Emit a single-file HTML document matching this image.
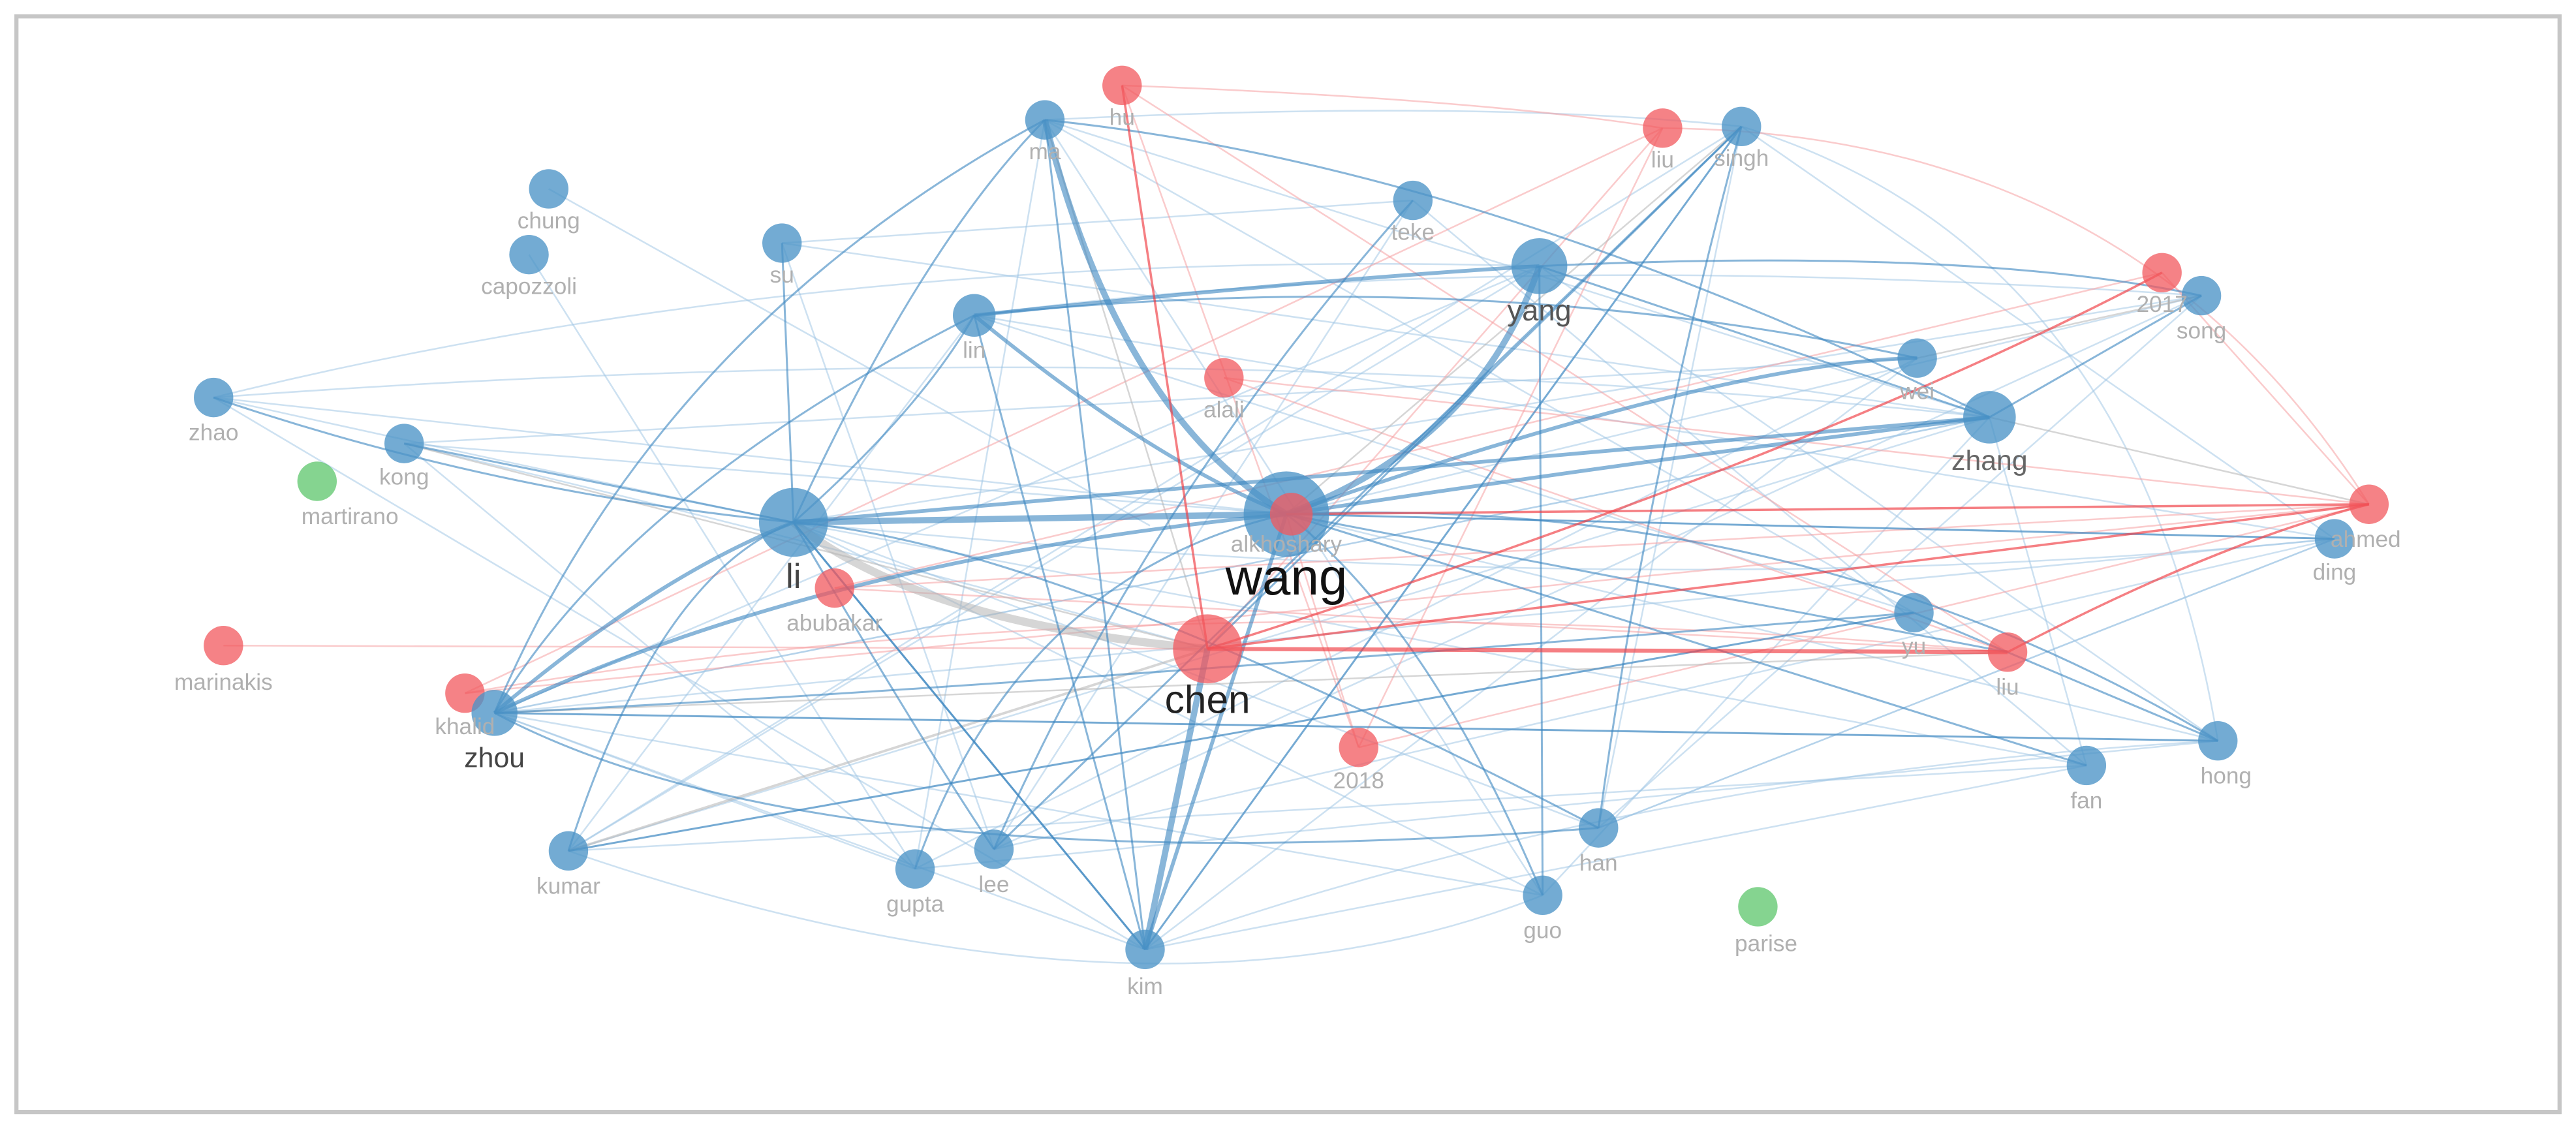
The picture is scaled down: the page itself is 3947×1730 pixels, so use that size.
<!DOCTYPE html>
<html><head><meta charset="utf-8"><style>
html,body{margin:0;padding:0;background:#fff}
svg{display:block}
text{font-family:"Liberation Sans",sans-serif;text-anchor:middle}
.l{fill:#b0b0b0;font-size:14px}
.sb{stroke:#3a86bf;fill:none;stroke-opacity:.6}
.lb{stroke:#9cc4e3;fill:none;stroke-opacity:.5;stroke-width:1}
.rd{stroke:#ef3b40;fill:none;stroke-opacity:.65}
.lr{stroke:#f5a0a3;fill:none;stroke-opacity:.55;stroke-width:1}
.gr{stroke:#b5b5b5;fill:none;stroke-opacity:.55}
.b{fill:#4b93c6;fill-opacity:.78}
.r{fill:#f2585d;fill-opacity:.75}
.g{fill:#5cc66b;fill-opacity:.75}
</style></head><body>
<svg width="3947" height="1730" viewBox="0 0 1568 687.3" preserveAspectRatio="none">
<rect x="0" y="0" width="1568" height="687.3" fill="#fff"/>
<rect x="10" y="10" width="1548" height="667" fill="none" stroke="#c6c6c6" stroke-width="2.5"/>
<g class="lb">
<path d="M130 242 Q500 150 937 162"/><path d="M130 242 Q300 280 483 318"/><path d="M130 242 L783 313"/><path d="M130 242 Q700 200 1211 254"/>
<path d="M246 270 L783 313"/><path d="M246 270 Q600 250 1167 218"/><path d="M246 270 L557 529"/><path d="M246 270 Q500 330 735 395"/>
<path d="M334 115 L700 320"/><path d="M476 148 L860 122"/><path d="M593 192 Q900 150 1340 180"/><path d="M593 192 L1165 373"/>
<path d="M636 73 L1211 254"/><path d="M636 73 L939 545"/><path d="M636 73 L557 529"/><path d="M636 73 Q900 60 1060 77"/>
<path d="M1060 77 L697 578"/><path d="M1060 77 L346 518"/><path d="M1060 77 L973 504"/><path d="M1060 77 Q1300 150 1350 451"/>
<path d="M860 122 L605 517"/><path d="M860 122 L1270 466"/><path d="M937 162 L1350 451"/><path d="M937 162 L346 518"/>
<path d="M1340 180 L973 504"/><path d="M1340 180 L783 313"/><path d="M1167 218 L697 578"/><path d="M1211 254 L301 434"/>
<path d="M1421 328 L301 434"/><path d="M1421 328 L783 313"/><path d="M1421 328 L973 504"/><path d="M1421 328 Q1000 370 483 318"/>
<path d="M1350 451 L301 434"/><path d="M1270 466 L483 318"/><path d="M1270 466 L1211 254"/><path d="M1165 373 L346 518"/>
<path d="M346 518 Q700 640 939 545"/><path d="M346 518 L1270 466"/><path d="M557 529 L1350 451"/><path d="M605 517 L1421 328"/>
<path d="M697 578 Q1000 470 1350 451"/><path d="M697 578 L1270 466"/><path d="M939 545 L301 434"/><path d="M973 504 L483 318"/>
<path d="M301 434 L557 529"/><path d="M301 434 L697 578"/><path d="M483 318 L939 545"/><path d="M593 192 L346 518"/>
<path d="M322 155 L557 529"/><path d="M1060 77 L1421 328"/><path d="M476 148 L605 517"/><path d="M130 242 L697 578"/>
<path d="M301 434 L1211 254"/><path d="M301 434 L937 162"/><path d="M346 518 L1211 254"/><path d="M557 529 L1167 218"/>
<path d="M605 517 L1340 180"/><path d="M483 318 L1340 180"/><path d="M973 504 L1421 328"/><path d="M939 545 L1211 254"/>
<path d="M783 313 L1350 451"/><path d="M593 192 L1421 328"/><path d="M636 73 L1165 373"/><path d="M476 148 L1211 254"/>
</g>
<g class="lr">
<path d="M136 393 L735 395"/><path d="M683 52 Q900 60 1012 78"/><path d="M683 52 L1222 397"/><path d="M683 52 L827 455"/>
<path d="M1012 78 Q1300 80 1442 307"/><path d="M1012 78 L735 395"/><path d="M1012 78 L827 455"/><path d="M1316 166 L1442 307"/>
<path d="M745 230 L1442 307"/><path d="M745 230 L1222 397"/><path d="M508 358 L1442 307"/><path d="M283 422 Q700 350 1222 397"/>
<path d="M827 455 L1442 307"/><path d="M783 313 L827 455"/><path d="M508 358 L1222 397"/><path d="M283 422 L1442 307"/>
<path d="M283 422 L1012 78"/><path d="M508 358 L1316 166"/>
</g>
<g class="gr" stroke-width="1">
<path d="M246 270 L735 395"/><path d="M346 518 L735 395" stroke-width="1.5"/><path d="M1060 77 L783 313"/><path d="M1211 254 L1442 307"/>
<path d="M636 73 L735 395"/><path d="M1340 180 L1167 218"/><path d="M1222 397 L301 434"/>
</g>
<path class="gr" d="M483 318 Q560 380 735 395" stroke-width="5"/>
<g class="sb" stroke-width="1.2">
<path d="M483 318 Q560 250 593 192"/><path d="M483 318 Q560 150 636 73"/><path d="M483 318 L476 148"/><path d="M483 318 L697 578"/>
<path d="M483 318 Q560 450 605 517"/><path d="M483 318 Q640 330 973 504"/><path d="M301 434 Q380 300 593 192"/><path d="M301 434 Q400 200 636 73"/>
<path d="M301 434 Q600 420 1165 373"/><path d="M301 434 L1350 451"/><path d="M301 434 Q500 540 973 504"/><path d="M346 518 Q400 350 483 318"/>
<path d="M346 518 L1165 373"/><path d="M557 529 Q620 350 783 313"/><path d="M605 517 Q700 300 860 122"/><path d="M605 517 L1060 77"/>
<path d="M697 578 L636 73"/><path d="M697 578 L1060 77"/><path d="M697 578 L483 318"/><path d="M939 545 Q870 380 783 313"/>
<path d="M973 504 Q1000 300 1060 77"/><path d="M939 545 L937 162"/><path d="M783 313 Q1100 300 1350 451"/><path d="M783 313 L1222 397"/>
<path d="M783 313 L1421 328"/><path d="M937 162 Q1200 150 1340 180"/><path d="M937 162 L1211 254"/><path d="M593 192 Q900 160 1167 218"/>
<path d="M636 73 Q900 100 1211 254"/><path d="M130 242 Q300 300 483 318"/><path d="M246 270 L483 318"/><path d="M1211 254 L1340 180"/>
<path d="M1165 373 L1350 451"/><path d="M783 313 L1270 466"/><path d="M735 395 L1060 77"/><path d="M593 192 L697 578"/>
</g>
<g class="sb" stroke-width="2.3">
<path d="M483 318 Q700 300 1211 254"/><path d="M593 192 Q700 280 783 313"/><path d="M301 434 Q400 350 483 318"/><path d="M301 434 Q500 340 783 313"/>
<path d="M697 578 L783 313"/><path d="M593 192 Q800 170 937 162"/><path d="M783 313 Q1000 280 1211 254"/><path d="M783 313 Q1050 220 1167 218"/>
</g>
<g class="sb" stroke-width="3.8">
<path d="M483 318 L783 313"/><path d="M636 73 Q680 250 783 313"/><path d="M783 313 Q900 270 937 162"/><path d="M697 578 L735 395"/>
</g>
<g class="rd" stroke-width="1.4">
<path d="M683 52 L735 395"/><path d="M735 395 L1442 307"/><path d="M735 395 L1222 397" stroke-width="2.5"/><path d="M783 313 L1442 307"/>
<path d="M1222 397 Q1350 330 1442 307"/><path d="M735 395 Q1100 280 1316 166"/>
</g>
<g>
<circle class="b" cx="636" cy="73" r="12"/><circle class="r" cx="683" cy="52" r="12"/><circle class="r" cx="1012" cy="78" r="12"/><circle class="b" cx="1060" cy="77" r="12"/>
<circle class="b" cx="334" cy="115" r="12"/><circle class="b" cx="322" cy="155" r="12"/><circle class="b" cx="476" cy="148" r="12"/><circle class="b" cx="860" cy="122" r="12"/>
<circle class="b" cx="937" cy="162" r="17"/><circle class="r" cx="1316" cy="166" r="12"/><circle class="b" cx="1340" cy="180" r="12"/><circle class="b" cx="593" cy="192" r="13"/>
<circle class="r" cx="745" cy="230" r="12"/><circle class="b" cx="783" cy="313" r="26"/><circle class="r" cx="786" cy="313" r="13"/>
<circle class="b" cx="130" cy="242" r="12"/><circle class="b" cx="246" cy="270" r="12"/><circle class="g" cx="193" cy="293" r="12"/><circle class="b" cx="483" cy="318" r="21"/>
<circle class="r" cx="508" cy="358" r="12"/><circle class="b" cx="1167" cy="218" r="12"/><circle class="b" cx="1211" cy="254" r="16"/><circle class="r" cx="1442" cy="307" r="12"/>
<circle class="b" cx="1421" cy="328" r="12"/><circle class="r" cx="136" cy="393" r="12"/><circle class="r" cx="283" cy="422" r="12"/><circle class="b" cx="301" cy="434" r="14"/>
<circle class="r" cx="735" cy="395" r="21"/><circle class="b" cx="1165" cy="373" r="12"/><circle class="r" cx="1222" cy="397" r="12"/><circle class="r" cx="827" cy="455" r="12"/>
<circle class="b" cx="1270" cy="466" r="12"/><circle class="b" cx="1350" cy="451" r="12"/><circle class="b" cx="973" cy="504" r="12"/><circle class="b" cx="939" cy="545" r="12"/>
<circle class="g" cx="1070" cy="552" r="12"/><circle class="b" cx="346" cy="518" r="12"/><circle class="b" cx="557" cy="529" r="12"/><circle class="b" cx="605" cy="517" r="12"/>
<circle class="b" cx="697" cy="578" r="12"/>
</g>
<g class="l">
<text x="636" y="97">ma</text><text x="683" y="76">hu</text><text x="1012" y="102">liu</text><text x="1060" y="101">singh</text>
<text x="334" y="139">chung</text><text x="322" y="179">capozzoli</text><text x="476" y="172">su</text><text x="860" y="146">teke</text>
<text x="1316" y="190">2017</text><text x="1340" y="206">song</text><text x="593" y="218">lin</text><text x="745" y="254">alali</text>
<text x="130" y="268">zhao</text><text x="246" y="295">kong</text><text x="213" y="319">martirano</text><text x="508" y="384">abubakar</text>
<text x="1167" y="243">wei</text><text x="1440" y="333">ahmed</text><text x="1421" y="353">ding</text><text x="136" y="420">marinakis</text>
<text x="283" y="447">khalid</text><text x="783" y="336">alkhoshary</text><text x="1165" y="398">yu</text><text x="1222" y="423">liu</text>
<text x="827" y="480">2018</text><text x="1270" y="492">fan</text><text x="1355" y="477">hong</text><text x="973" y="530">han</text>
<text x="939" y="571">guo</text><text x="1075" y="579">parise</text><text x="346" y="544">kumar</text><text x="557" y="555">gupta</text>
<text x="605" y="543">lee</text><text x="697" y="605">kim</text>
</g>
<text x="783" y="362" style="font-size:31px;fill:#111">wang</text>
<text x="735" y="434" style="font-size:24px;fill:#222">chen</text>
<text x="483" y="358" style="font-size:21px;fill:#444">li</text>
<text x="937" y="195" style="font-size:18px;fill:#555">yang</text>
<text x="1211" y="286" style="font-size:17px;fill:#666">zhang</text>
<text x="301" y="467" style="font-size:17px;fill:#444">zhou</text>
</svg>
</body></html>
